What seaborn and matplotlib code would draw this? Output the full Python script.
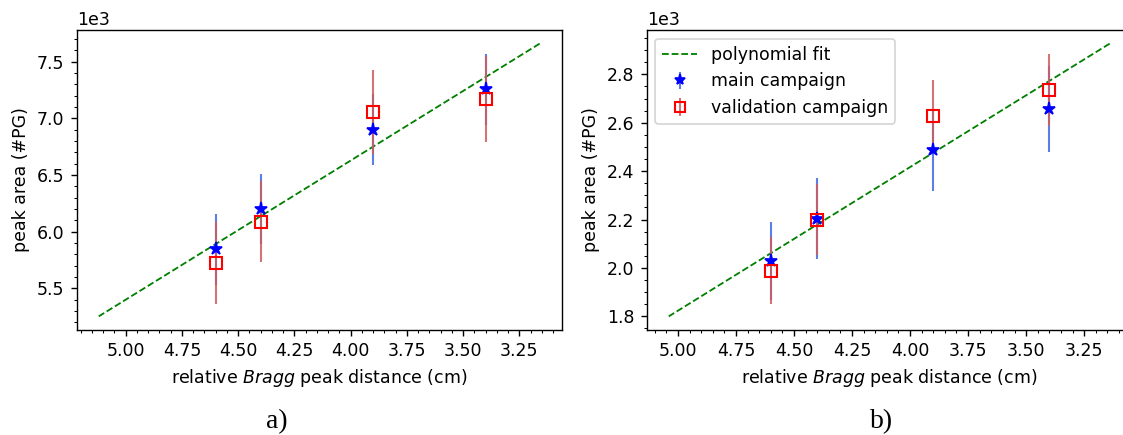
import matplotlib
matplotlib.use("Agg")
import matplotlib.pyplot as plt
import seaborn as sns

# Relative Bragg peak distances (cm) of the measured positions
distance = [4.6, 4.4, 3.9, 3.4]

# Panel a): peak area (#PG)
main_a = [5844, 6203, 6900, 7256]
main_a_err = [310, 310, 312, 312]
val_a = [5724, 6088, 7053, 7171]
val_a_err = [360, 356, 371, 383]
fit_a_x = [5.12, 3.16]
fit_a_y = [5253, 7659]

# Panel b): peak area (#PG)
main_b = [2028, 2203, 2488, 2657]
main_b_err = [160, 168, 168, 176]
val_b = [1989, 2199, 2630, 2734]
val_b_err = [138, 147, 145, 149]
fit_b_x = [5.04, 3.14]
fit_b_y = [1800, 2927]

panel_labels = ["a)", "b)"]

sns.set_style("ticks", rc={
    "axes.edgecolor": "black",
    "xtick.color": "black",
    "ytick.color": "black",
    "text.color": "black",
    "axes.labelcolor": "black",
    "axes.linewidth": 0.9,
})
plt.rcParams["font.family"] = ["DejaVu Sans"]

W, H, DPI = 1123, 435, 125
fig = plt.figure(figsize=(W / DPI, H / DPI), dpi=DPI)

ax_w = 485 / W
ax_h = 300 / H
ax_b = 1 - 330 / H
ax_a = fig.add_axes([76.7 / W, ax_b, ax_w, ax_h])
ax_bb = fig.add_axes([646.7 / W, ax_b, ax_w, ax_h])


def draw_panel(ax, fx, fy, main, main_err, val, val_err, legend):
    sns.lineplot(x=fx, y=fy, ax=ax, color="green", linestyle="--",
                 linewidth=1.05, label="polynomial fit", legend=False)
    m = ax.errorbar(distance, main, yerr=main_err, fmt="*", color="blue",
                    markersize=7.5, ecolor="royalblue", elinewidth=1.2,
                    capsize=0, label="main campaign")
    m[2][0].set_alpha(0.85)
    v = ax.errorbar(distance, val, yerr=val_err, fmt="s", color="red",
                    markerfacecolor="none", markeredgewidth=1.2,
                    markersize=7, ecolor="indianred", elinewidth=1.2,
                    capsize=0, label="validation campaign")
    v[2][0].set_alpha(0.85)
    ax.invert_xaxis()
    ax.minorticks_on()
    ax.ticklabel_format(axis="y", style="sci", scilimits=(3, 3))
    ax.set_xlabel(r"relative $\it{Bragg}$ peak distance (cm)")
    ax.set_ylabel("peak area (#PG)")
    for s in ax.spines.values():
        s.set_visible(True)
    if legend:
        ax.legend(loc="upper left", markerscale=0.85)


draw_panel(ax_a, fit_a_x, fit_a_y, main_a, main_a_err, val_a, val_a_err, False)
draw_panel(ax_bb, fit_b_x, fit_b_y, main_b, main_b_err, val_b, val_b_err, True)

for label, xc in zip(panel_labels, [277, 882]):
    fig.text(xc / W, 1 - 422 / H, label, ha="center", va="center",
             family="Liberation Serif", fontsize=16)

fig.savefig("out.png", dpi=DPI)
